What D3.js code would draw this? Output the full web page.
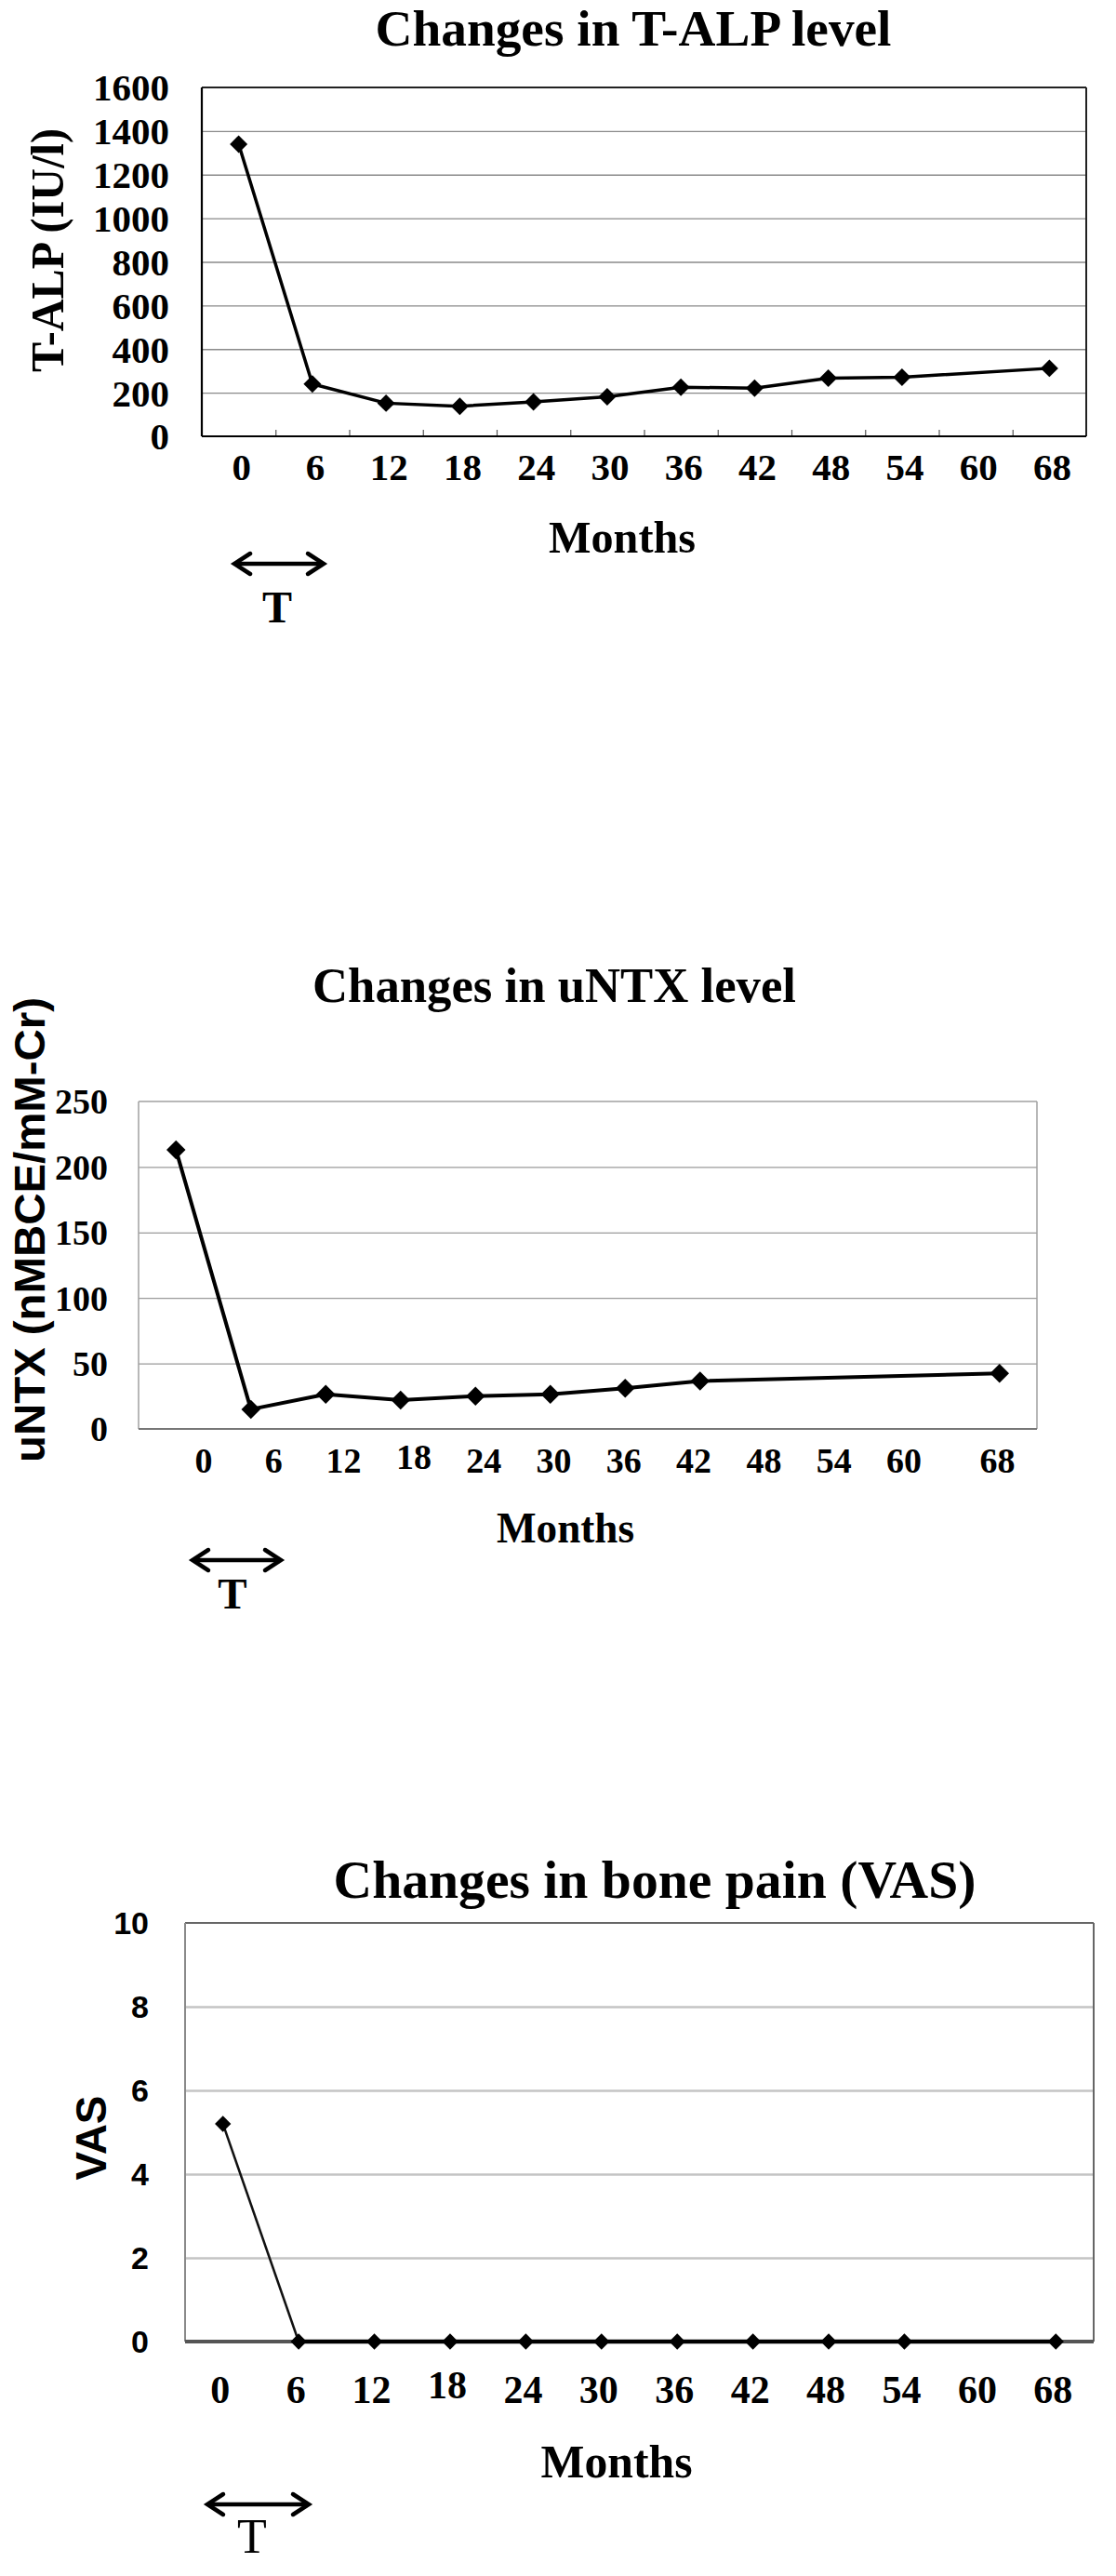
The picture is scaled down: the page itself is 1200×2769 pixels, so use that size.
<!DOCTYPE html>
<html>
<head>
<meta charset="utf-8">
<script src="https://cdn.jsdelivr.net/npm/d3@7"></script>
<style>
  html, body { margin: 0; padding: 0; background: #fff; }
  svg { display: block; }
  .serif { font-family: "Liberation Serif", "Times New Roman", serif; font-weight: bold; }
  .sans { font-family: "Liberation Sans", Arial, sans-serif; font-weight: bold; }
</style>
</head>
<body>
<svg id="chart" width="1200" height="2769"></svg>
<script>
// ---------- data ----------
const monthLabels = ["0", "6", "12", "18", "24", "30", "36", "42", "48", "54", "60", "68"];
const monthNumbers = [0, 6, 12, 18, 24, 30, 36, 42, 48, 54, 60, 68];

const alpValues = [1340, 240, 152, 138, 158, 181, 225, 221, 267, 271, null, 312];
const ntxValues = [213, 15, 26.5, 22, 25, 26.5, 31, 36.5, null, null, null, 42.5];
const vasValues = [5.2, 0, 0, 0, 0, 0, 0, 0, 0, 0, null, 0];

const alpTicks = [0, 200, 400, 600, 800, 1000, 1200, 1400, 1600];
const ntxTicks = [0, 50, 100, 150, 200, 250];
const vasTicks = [0, 2, 4, 6, 8, 10];

const titles = ["Changes in T-ALP level", "Changes in uNTX level", "Changes in bone pain (VAS)"];
const yTitles = ["T-ALP (IU/l)", "uNTX (nMBCE/mM-Cr)", "VAS"];
const xTitle = "Months";
const treatLabel = "T";

// ---------- drawing ----------
const svg = d3.select("#chart");
svg.append("rect").attr("width", 1200).attr("height", 2769).attr("fill", "#fff");

function drawArrow(g, x1, x2, y, w, head, half) {
  g.append("line").attr("x1", x1 + 2).attr("x2", x2 - 2).attr("y1", y).attr("y2", y)
    .attr("stroke", "#000").attr("stroke-width", w);
  g.append("path").attr("d", `M${x1 + head},${y - half} L${x1},${y} L${x1 + head},${y + half}`)
    .attr("fill", "none").attr("stroke", "#000").attr("stroke-width", w)
    .attr("stroke-linejoin", "miter").attr("stroke-linecap", "round");
  g.append("path").attr("d", `M${x2 - head},${y - half} L${x2},${y} L${x2 - head},${y + half}`)
    .attr("fill", "none").attr("stroke", "#000").attr("stroke-width", w)
    .attr("stroke-linejoin", "miter").attr("stroke-linecap", "round");
}

function drawChart(cfg) {
  const g = svg.append("g");
  const { left, right, top, bottom } = cfg.plot;
  const maxTick = cfg.ticks[cfg.ticks.length - 1];

  const x = d3.scaleBand().domain(monthLabels).range([left, right]).paddingInner(0).paddingOuter(0);
  const y = d3.scaleLinear().domain([0, maxTick]).range([bottom, top]);
  const cx = m => x(m) + x.bandwidth() / 2;

  // gridlines
  const grid = g.append("g").attr("transform", `translate(${left},0)`)
    .call(d3.axisLeft(y).tickValues(cfg.ticks.filter(t => t > 0 && t < maxTick))
      .tickSize(-(right - left)).tickFormat(""));
  grid.select(".domain").remove();
  grid.selectAll(".tick line").attr("stroke", cfg.gridColor).attr("stroke-width", cfg.gridWidth);

  // frame
  g.append("line").attr("x1", left).attr("x2", right).attr("y1", top).attr("y2", top)
    .attr("stroke", cfg.frameTop).attr("stroke-width", cfg.frameW);
  g.append("line").attr("x1", right).attr("x2", right).attr("y1", top).attr("y2", bottom)
    .attr("stroke", cfg.frameRight).attr("stroke-width", cfg.frameW);
  g.append("line").attr("x1", left).attr("x2", left).attr("y1", top).attr("y2", bottom)
    .attr("stroke", cfg.frameLeft).attr("stroke-width", cfg.leftW);

  // inner ticks at band boundaries
  if (cfg.innerTicks) {
    const bx = d3.scaleLinear().domain([0, monthLabels.length]).range([left, right]);
    const tk = g.append("g").attr("transform", `translate(0,${bottom})`)
      .call(d3.axisBottom(bx).tickValues(d3.range(1, monthLabels.length)).tickSize(-7).tickFormat(""));
    tk.select(".domain").remove();
    tk.selectAll(".tick line").attr("stroke", "#555").attr("stroke-width", 1.2);
  }
  g.append("line").attr("x1", left).attr("x2", right).attr("y1", bottom).attr("y2", bottom)
    .attr("stroke", cfg.frameBottom).attr("stroke-width", cfg.bottomW);

  // y tick labels
  const yl = g.append("g").attr("transform", `translate(${cfg.yLabelRight},0)`)
    .call(d3.axisLeft(y).tickValues(cfg.ticks).tickSize(0).tickPadding(0).tickFormat(d3.format("d")));
  yl.select(".domain").remove();
  yl.selectAll(".tick text")
    .attr("font-size", cfg.yLabelSize).attr("fill", "#000").attr("dy", "0.34em")
    .style("font-family", cfg.yLabelFont === "sans" ? "'Liberation Sans', Arial, sans-serif" : "'Liberation Serif', 'Times New Roman', serif")
    .style("font-weight", "bold");

  // x tick labels
  const xl = g.append("g").attr("transform", `translate(0,${cfg.xLabelBaseline})`);
  let xPos;
  if (cfg.xLabelLinear) {
    const xm = d3.scaleLinear().domain([0, 60]).range(cfg.xLabelLinear);
    xPos = (d, i) => xm(monthNumbers[i]);
  } else {
    xPos = (d) => cx(d) + cfg.xLabelShift;
  }
  xl.selectAll("text").data(monthLabels).join("text")
    .attr("class", "serif").attr("font-size", cfg.xLabelSize)
    .attr("text-anchor", "middle").attr("x", xPos)
    .attr("y", d => (cfg.raise18 && d === "18") ? -cfg.raise18 : 0).text(d => d);

  // line + markers
  const pts = monthLabels.map((m, i) => ({ m, v: cfg.values[i] })).filter(d => d.v != null);
  const line = d3.line().x(d => cx(d.m)).y(d => y(d.v));
  if (cfg.firstSegWidth) {
    g.append("path").datum(pts.slice(0, 2)).attr("d", line).attr("fill", "none")
      .attr("stroke", "#111").attr("stroke-width", cfg.firstSegWidth);
    g.append("path").datum(pts.slice(1)).attr("d", line).attr("fill", "none")
      .attr("stroke", "#000").attr("stroke-width", cfg.lineWidth);
  } else {
    g.append("path").datum(pts).attr("d", line).attr("fill", "none")
      .attr("stroke", "#000").attr("stroke-width", cfg.lineWidth).attr("stroke-linejoin", "round");
  }
  g.selectAll(".mk").data(pts).join("path").attr("class", "mk")
    .attr("transform", d => `translate(${cx(d.m)},${y(d.v)}) rotate(45)`)
    .attr("d", d3.symbol().type(d3.symbolSquare).size(cfg.markerSize))
    .attr("fill", "#000");

  // title
  g.append("text").attr("class", "serif").attr("font-size", cfg.titleSize)
    .attr("text-anchor", "middle").attr("x", cfg.titleX).attr("y", cfg.titleY)
    .attr("textLength", cfg.titleLen).attr("lengthAdjust", "spacingAndGlyphs")
    .text(cfg.title);

  // y title
  g.append("text").attr("class", cfg.yTitleFont).attr("font-size", cfg.yTitleSize)
    .attr("text-anchor", "middle")
    .attr("transform", `translate(${cfg.yTitleX},${cfg.yTitleY}) rotate(-90)`)
    .attr("textLength", cfg.yTitleLen).attr("lengthAdjust", "spacingAndGlyphs")
    .text(cfg.yTitle);

  // x title
  g.append("text").attr("class", "serif").attr("font-size", cfg.monthsSize)
    .attr("text-anchor", "middle").attr("x", cfg.monthsX).attr("y", cfg.monthsY)
    .attr("textLength", cfg.monthsLen).attr("lengthAdjust", "spacingAndGlyphs")
    .text(xTitle);

  // treatment arrow
  drawArrow(g, cfg.arrow[0], cfg.arrow[1], cfg.arrow[2], 4.5, 17, 11);
  g.append("text").attr("font-size", cfg.tSize)
    .style("font-family", "'Liberation Serif', 'Times New Roman', serif")
    .style("font-weight", cfg.tWeight)
    .attr("text-anchor", "middle").attr("x", cfg.tX).attr("y", cfg.tY).text(treatLabel);
}

drawChart({
  plot: { left: 217, right: 1168, top: 94, bottom: 469 },
  ticks: alpTicks, values: alpValues,
  gridColor: "#8a8a8a", gridWidth: 1.3,
  frameTop: "#222", frameRight: "#222", frameLeft: "#000", frameBottom: "#000",
  frameW: 2, leftW: 2.2, bottomW: 2.2, innerTicks: true,
  yLabelRight: 182, yLabelSize: 41, yLabelFont: "serif",
  xLabelBaseline: 516, xLabelSize: 41, xLabelShift: 3,
  lineWidth: 3.5, markerSize: 180,
  title: titles[0], titleSize: 55, titleX: 681, titleY: 49, titleLen: 555,
  yTitle: yTitles[0], yTitleFont: "serif", yTitleSize: 50, yTitleX: 68, yTitleY: 269, yTitleLen: 262,
  monthsSize: 48, monthsX: 669, monthsY: 594, monthsLen: 158,
  arrow: [252, 348, 606], tX: 298, tY: 669, tSize: 48, tWeight: "bold"
});

drawChart({
  plot: { left: 149, right: 1115, top: 1184, bottom: 1536 },
  ticks: ntxTicks, values: ntxValues,
  gridColor: "#9a9a9a", gridWidth: 1.3,
  frameTop: "#a0a0a0", frameRight: "#a0a0a0", frameLeft: "#a0a0a0", frameBottom: "#777",
  frameW: 1.5, leftW: 1.5, bottomW: 2, innerTicks: false,
  yLabelRight: 116, yLabelSize: 38, yLabelFont: "serif",
  xLabelBaseline: 1583, xLabelSize: 38, xLabelLinear: [219, 972], raise18: 4,
  lineWidth: 4, markerSize: 210,
  title: titles[1], titleSize: 52, titleX: 596, titleY: 1077, titleLen: 520,
  yTitle: yTitles[1], yTitleFont: "sans", yTitleSize: 47, yTitleX: 48, yTitleY: 1322, yTitleLen: 500,
  monthsSize: 46, monthsX: 608, monthsY: 1658, monthsLen: 148,
  arrow: [207, 302, 1677], tX: 250, tY: 1729, tSize: 47, tWeight: "bold"
});

drawChart({
  plot: { left: 199, right: 1176, top: 2067, bottom: 2517 },
  ticks: vasTicks, values: vasValues,
  gridColor: "#c4c4c4", gridWidth: 2.5,
  frameTop: "#666", frameRight: "#666", frameLeft: "#8a8a8a", frameBottom: "#555",
  frameW: 2, leftW: 2, bottomW: 4, innerTicks: false,
  yLabelRight: 160, yLabelSize: 34, yLabelFont: "sans",
  xLabelBaseline: 2583, xLabelSize: 42, xLabelShift: -3, raise18: 5,
  lineWidth: 4.5, firstSegWidth: 2.5, markerSize: 150,
  title: titles[2], titleSize: 56, titleX: 704, titleY: 2040, titleLen: 691,
  yTitle: yTitles[2], yTitleFont: "sans", yTitleSize: 46, yTitleX: 114, yTitleY: 2298, yTitleLen: 91,
  monthsSize: 50, monthsX: 663, monthsY: 2663, monthsLen: 163,
  arrow: [223, 332, 2692], tX: 271, tY: 2744, tSize: 52, tWeight: "normal"
});
</script>
</body>
</html>
